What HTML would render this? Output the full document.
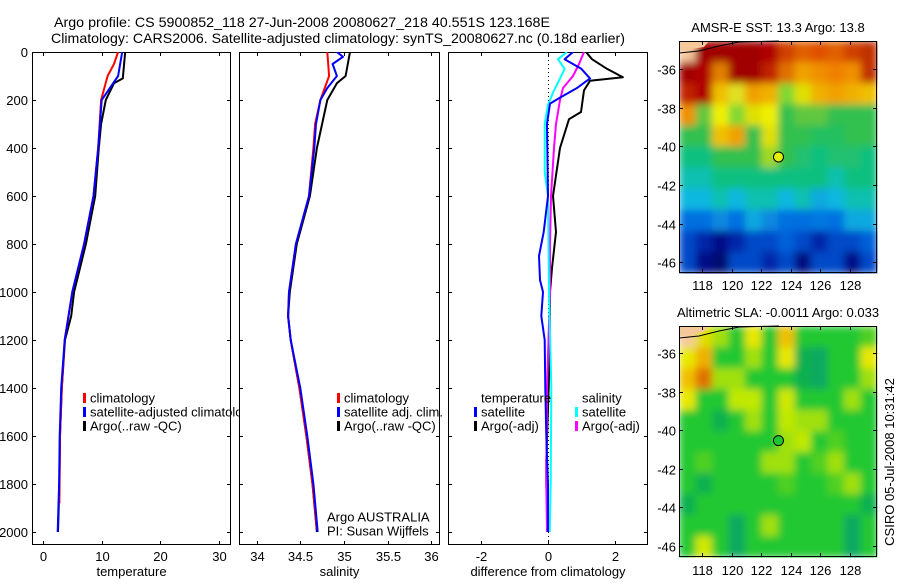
<!DOCTYPE html>
<html><head><meta charset="utf-8"><style>
html,body{margin:0;padding:0;background:#fff;}
svg text{font-family:"Liberation Sans",sans-serif;fill:#000;}
</style></head><body>
<svg id="fig" xmlns="http://www.w3.org/2000/svg" width="900" height="580" viewBox="0 0 900 580">
<defs>
<filter id="soft" x="0" y="0" width="1" height="1" filterUnits="objectBoundingBox"><feGaussianBlur stdDeviation="4" edgeMode="duplicate"/></filter>
<clipPath id="clip-legend1"><rect x="0" y="0" width="239" height="580"/></clipPath>
</defs>
<rect width="900" height="580" fill="#fff"/>
<text x="54" y="27" font-size="14" textLength="496" lengthAdjust="spacingAndGlyphs">Argo profile: CS 5900852_118 27-Jun-2008 20080627_218 40.551S 123.168E</text>
<text x="51" y="43" font-size="14" textLength="574" lengthAdjust="spacingAndGlyphs">Climatology: CARS2006. Satellite-adjusted climatology: synTS_20080627.nc (0.18d earlier)</text>
<g id="panels"></g>
<g id="maps"></g>
<text transform="translate(894,462) rotate(-90)" font-size="13" text-anchor="middle">CSIRO 05-Jul-2008 10:31:42</text>
</svg>
<script>
// ---- data ----
const tempDepthArgo = [0,110,130,200,300,400,600,800,1000,1100,1200,1400,1600,1800,2000];
const tempArgo      = [14.0,13.6,12.1,10.7,9.9,9.5,8.9,7.3,5.3,4.8,3.75,3.2,2.9,2.8,2.55];
const tempDepthClim = [0,50,100,200,400,600,800,1000,1200,1400,1600,1880];
const tempClim      = [12.8,12.1,11.0,9.9,9.4,8.6,7.0,5.0,3.7,3.2,2.9,2.8];
const tempDepthSat  = [0,100,150,200,400,600,800,1000,1200,1400,1600,1800,2000];
const tempSat       = [13.5,12.8,11.4,10.0,9.4,8.6,7.0,5.0,3.7,3.1,2.85,2.75,2.5];

const salDepthArgo = [0,100,130,200,300,400,600,800,1000,1100,1200,1400,1600,1800,2000];
const salArgo      = [35.07,35.02,34.92,34.81,34.75,34.69,34.61,34.46,34.38,34.36,34.39,34.49,34.57,34.64,34.69];
const salDepthClim = [0,100,200,300,400,600,800,1000,1100,1200,1400,1600,1800,1990];
const salClim      = [34.81,34.83,34.73,34.67,34.65,34.6,34.45,34.37,34.36,34.39,34.49,34.57,34.64,34.69];
const salDepthSat  = [0,20,50,100,150,200,300,400,600,800,1000,1100,1200,1400,1600,1800,2000];
const salSat       = [34.92,34.99,34.87,34.92,34.81,34.73,34.68,34.66,34.6,34.45,34.37,34.36,34.39,34.5,34.58,34.65,34.7];

const diffDepthTArgo = [0,30,70,105,120,160,250,280,400,600,750,900,1000,1200,1400,1700,1800,2000];
const diffTArgo      = [1.14,1.32,1.77,2.25,1.26,1.08,0.99,0.63,0.36,0.15,0.24,0.12,0.06,0.05,0.02,-0.05,-0.05,0];
const diffDepthTSat  = [0,30,70,110,150,190,215,300,600,750,850,950,1000,1100,1200,1400,1600,1800,2000];
const diffTSat       = [0.75,0.5,1.0,1.26,0.87,0.36,0.06,-0.03,0,-0.13,-0.27,-0.24,-0.15,-0.2,-0.1,-0.08,-0.05,0,0];
const diffDepthSSat  = [0,30,70,110,160,220,300,500,600,1000,1400,1800,2000];
const diffSSat       = [0.57,0.3,0.5,0.36,0.18,0,-0.1,-0.1,0,0.03,0.1,0.08,0.05];
const diffDepthSArgo = [0,50,100,150,200,300,400,600,800,1000,1400,1800,2000];
const diffSArgo      = [1.08,0.93,0.75,0.45,0.36,0.24,0.18,0.09,0.06,0.06,-0.03,-0.05,-0.03];

const depthTicks = [0,200,400,600,800,1000,1200,1400,1600,1800,2000];
const tempTicks = [0,10,20,30];
const salTicks = [34,34.5,35,35.5,36];
const salTickLabels = ["34","34.5","35","35.5","36"];
const diffTicks = [-2,0,2];

const lonTicks = [118,120,122,124,126,128];
const latTicks = [36,38,40,42,44,46];
const argoLon = 123.168, argoLat = 40.551;

const sstGrid = [
["#f5c89b","#a00000","#a00000","#a00000","#a00000","#b00000","#d04000","#e06000","#e05000","#e06000","#d04000","#c03000"],
["#a00000","#b00000","#e08000","#a00000","#a00000","#c02000","#e07000","#f0a000","#f09000","#f08000","#f09000","#c03000"],
["#c02000","#b00000","#f0c000","#e0e020","#f0a000","#f0b000","#80d830","#e0e000","#f0b000","#f0a000","#f0b000","#f0c000"],
["#f09000","#60c840","#f0f000","#80d830","#e0e000","#f0f000","#30c050","#60c840","#60c840","#30c050","#30c050","#30c050"],
["#30c050","#30c050","#f0c000","#f0a000","#30c050","#e0e000","#30c050","#30c050","#20c060","#20c060","#30c050","#30c050"],
["#10c080","#10c080","#30c050","#30c050","#30c050","#a0d820","#30c050","#20c070","#10c080","#20c070","#20c070","#10c080"],
["#10c0b0","#10c0b0","#10c080","#10c080","#10c080","#10c080","#10c080","#10c080","#10c080","#10c0b0","#10c080","#10c080"],
["#10b8e0","#10b8e0","#10c0b0","#10b8e0","#10c0b0","#10c0b0","#10b8e0","#10c0b0","#10a8e0","#10b8e0","#10c0b0","#10c0b0"],
["#0070e0","#0070e0","#1088e0","#0070e0","#10a8e0","#1088e0","#0070e0","#0070e0","#0078e0","#0070e0","#10a8e0","#10a8e0"],
["#0048c8","#0028a8","#001088","#0028a8","#0048c8","#0048c8","#0060d8","#0048c8","#0028a8","#0048c8","#0048c8","#0060d8"],
["#0048c8","#001088","#000c70","#0048c8","#0048c8","#0028a8","#0048c8","#000c80","#0048c8","#0048c8","#001088","#0048c8"]];
const slaGrid = [
["#f5c89b","#e0e000","#a0e010","#20c830","#e8e800","#20c830","#f0c000","#20c830","#20c830","#20c830","#20c830","#50d020"],
["#e8e800","#f0b000","#20c830","#20c830","#a0e010","#20c830","#e8e800","#10b050","#10a860","#20c830","#20c830","#e8e800"],
["#f0c000","#e07000","#a0e010","#a0e010","#20c830","#20c830","#20c830","#10b050","#10a860","#20c830","#20c830","#a0e010"],
["#e8e800","#20c830","#20c830","#c0e800","#c0e800","#20c830","#d0e800","#20c830","#20c830","#20c830","#a0e010","#20c830"],
["#20c830","#20c830","#10b050","#20c830","#a0e010","#20c830","#c0e800","#a0e010","#a0e010","#20c830","#20c830","#20c830"],
["#20c830","#20c830","#20c830","#20c830","#20c830","#20c830","#a0e010","#c0e800","#20c830","#50d020","#20c830","#20c830"],
["#20c830","#50d020","#20c830","#20c830","#20c830","#a0e010","#a0e010","#20c830","#50d020","#a0e010","#20c830","#20c830"],
["#20c830","#10b050","#20c830","#20c830","#20c830","#20c830","#50d020","#20c830","#20c830","#50d020","#a0e010","#20c830"],
["#10b050","#20c830","#20c830","#20c830","#20c830","#20c830","#20c830","#20c830","#20c830","#20c830","#20c830","#10b050"],
["#20c830","#20c830","#20c830","#10a860","#20c830","#a0e010","#20c830","#20c830","#20c830","#20c830","#10a860","#20c830"],
["#20c830","#d0e800","#20c830","#10a860","#20c830","#20c830","#20c830","#20c830","#20c830","#20c830","#10a860","#20c830"]];

// ---- drawing ----
const NS = "http://www.w3.org/2000/svg";
function mk(tag, attrs, parent){const e=document.createElementNS(NS,tag);for(const k in attrs)e.setAttribute(k,attrs[k]);parent.appendChild(e);return e;}
const panelsG = document.getElementById('panels');
const mapsG = document.getElementById('maps');
const TOP=52, BOT=545;
function yD(d){return TOP + d*0.24;}

function makePanel(id,x0,x1,xScale,ticks,tickLabels,title){
  const g=mk('g',{},panelsG);
  
  
  const cp=mk('clipPath',{id:'clip-'+id},g);
  mk('rect',{x:x0,y:TOP,width:x1-x0,height:BOT-TOP},cp);
  const frame=mk('rect',{x:x0+0.5,y:TOP+0.5,width:x1-x0-1,height:BOT-TOP-1,fill:'none',stroke:'#000','stroke-width':1},g);
  
  
  depthTicks.forEach(d=>{
    const y=Math.round(yD(d))+0.5;
    mk('line',{x1:x0,x2:x0+4,y1:y,y2:y,stroke:'#000'},g);
    mk('line',{x1:x1-4,x2:x1,y1:y,y2:y,stroke:'#000'},g);
  });
  ticks.forEach((t,i)=>{
    const x=Math.round(xScale(t))+0.5;
    mk('line',{x1:x,x2:x,y1:BOT-4,y2:BOT,stroke:'#000'},g);
    mk('line',{x1:x,x2:x,y1:TOP,y2:TOP+4,stroke:'#000'},g);
    const tl=mk('text',{x:x,y:561,'font-size':13,'text-anchor':'middle'},g);
    tl.textContent=tickLabels[i];
    
    
  });
  const at=mk('text',{x:(x0+x1)/2,y:576,'font-size':13,'text-anchor':'middle'},g);
  at.textContent=title;
  
  
  const lg=mk('g',{'clip-path':'url(#clip-'+id+')'},g);
  return lg;
}
function drawLine(g,depths,vals,xScale,color,name,w){
  const pts=depths.map((d,i)=>xScale(vals[i]).toFixed(1)+','+yD(d).toFixed(1)).join(' ');
  const p=mk('polyline',{points:pts,fill:'none',stroke:color,'stroke-width':w||2,'stroke-linejoin':'round'},g);
  
  
}
function legendItem(x,y,color,label,name,clip){
  if(color){const m=mk('rect',{x:x-7,y:y-5,width:3,height:10,fill:color},panelsG);
    
    }
  const t=mk('text',{x:x,y:y+4.5,'font-size':13},panelsG);
  if(clip) t.setAttribute('clip-path','url(#'+clip+')');
  t.textContent=label;
  
  
}

depthTicks.forEach(d=>{
  const t=mk('text',{x:28,y:yD(d)+5,'font-size':13,'text-anchor':'end'},panelsG);
  t.textContent=String(d);
  
  
});

// temperature
const xT=v=>43+v*5.87;
const gT=makePanel('temperature',32,231,xT,tempTicks,tempTicks.map(String),'temperature');
drawLine(gT,tempDepthArgo,tempArgo,xT,'#000','temp-argo-line');
drawLine(gT,tempDepthClim,tempClim,xT,'#f00','temp-climatology-line');
drawLine(gT,tempDepthSat,tempSat,xT,'#00f','temp-satellite-line');
legendItem(90,398,'#f00','climatology','temp-legend-climatology');
legendItem(90,412,'#00f','satellite-adjusted climatology','temp-legend-satellite','clip-legend1');
legendItem(90,426,'#000','Argo(..raw -QC)','temp-legend-argo');

// salinity
const xS=v=>256.7+(v-34)*87.2;
const gS=makePanel('salinity',239,440,xS,salTicks,salTickLabels,'salinity');
drawLine(gS,salDepthArgo,salArgo,xS,'#000','sal-argo-line');
drawLine(gS,salDepthClim,salClim,xS,'#f00','sal-climatology-line');
drawLine(gS,salDepthSat,salSat,xS,'#00f','sal-satellite-line');
legendItem(344,398,'#f00','climatology','sal-legend-climatology');
legendItem(344,412,'#00f','satellite adj. clim.','sal-legend-satellite');
legendItem(344,426,'#000','Argo(..raw -QC)','sal-legend-argo');
legendItem(327,517,null,'Argo AUSTRALIA','argo-australia-label');
legendItem(327,531,null,'PI: Susan Wijffels','pi-label');

// difference
const xDf=v=>548+v*33.3;
const gD=makePanel('difference',448,648,xDf,diffTicks,diffTicks.map(String),'difference from climatology');
const zl=mk('line',{x1:548.5,x2:548.5,y1:TOP,y2:BOT,stroke:'#000','stroke-dasharray':'1,3'},gD);


drawLine(gD,diffDepthTArgo,diffTArgo,xDf,'#000','diff-temp-argo-line');
drawLine(gD,diffDepthSArgo,diffSArgo,xDf,'#f0f','diff-sal-argo-line');
drawLine(gD,diffDepthSSat,diffSSat,xDf,'#0ff','diff-sal-satellite-line');
drawLine(gD,diffDepthTSat,diffTSat,xDf,'#00f','diff-temp-satellite-line');
legendItem(481,398,null,'temperature','diff-legend-temperature-header');
legendItem(481,412,'#00f','satellite','diff-legend-temp-satellite');
legendItem(481,426,'#000','Argo(-adj)','diff-legend-temp-argo');
legendItem(582,398,null,'salinity','diff-legend-salinity-header');
legendItem(582,412,'#0ff','satellite','diff-legend-sal-satellite');
legendItem(582,426,'#f0f','Argo(-adj)','diff-legend-sal-argo');

// maps
function drawMap(id,title,grid,top,bot,y36,titleY,lonLabelY,circleColor){
  const g=mk('g',{},mapsG);
  
  
  const L=679,R=877, lx=v=>702+(v-118)*14.8, ly=v=>y36+(v-36)*((bot-top)/12);
  const rows=grid.length, cols=grid[0].length, cw=(R-L)/cols, ch=(bot-top)/rows;
  const cg=mk('g',{filter:'url(#soft)'},g);
  
  
  grid.forEach((row,r)=>row.forEach((c,k)=>{
    mk('rect',{x:L+k*cw,y:top+r*ch,width:cw+0.6,height:ch+0.6,fill:c},cg);
  }));
  const land=mk('path',{d:`M${L},${top} L${L+30},${top} L${L+25},${top+6} L${L},${top+10} Z`,fill:'#f5c89b'},g);
  
  
  const coast=mk('path',{d:`M${L},${top+12} L${L+20},${top+10} L${L+40},${top+5} L${L+60},${top+1} L${L+100},${top}`,fill:'none',stroke:'#000','stroke-width':1},g);
  
  
  mk('rect',{x:L+0.5,y:top+0.5,width:R-L-1,height:bot-top-1,fill:'none',stroke:'#000'},g);
  latTicks.forEach(v=>{
    const y=Math.round(ly(v))+0.5;
    mk('line',{x1:L,x2:L+4,y1:y,y2:y,stroke:'#000'},g);
    mk('line',{x1:R-4,x2:R,y1:y,y2:y,stroke:'#000'},g);
    const t=mk('text',{x:L-3,y:y+5,'font-size':13,'text-anchor':'end'},g);
    t.textContent='-'+v;
    
    
  });
  lonTicks.forEach(v=>{
    const x=Math.round(lx(v))+0.5;
    mk('line',{x1:x,x2:x,y1:bot-4,y2:bot,stroke:'#000'},g);
    mk('line',{x1:x,x2:x,y1:top,y2:top+4,stroke:'#000'},g);
    const t=mk('text',{x:x,y:lonLabelY,'font-size':13,'text-anchor':'middle'},g);
    t.textContent=String(v);
    
    
  });
  const c=mk('circle',{cx:lx(argoLon),cy:ly(argoLat),r:5,fill:circleColor,stroke:'#000','stroke-width':1},g);
  
  
  const t=mk('text',{x:778,y:titleY,'font-size':13,'text-anchor':'middle'},g);
  t.textContent=title;
  
  
}
drawMap('sst','AMSR-E SST: 13.3 Argo: 13.8',sstGrid,41,273,69,32,290,'#e0f000');
drawMap('sla','Altimetric SLA: -0.0011  Argo: 0.033',slaGrid,326,557,353,317,575,'#20c830');
</script>
</body></html>
